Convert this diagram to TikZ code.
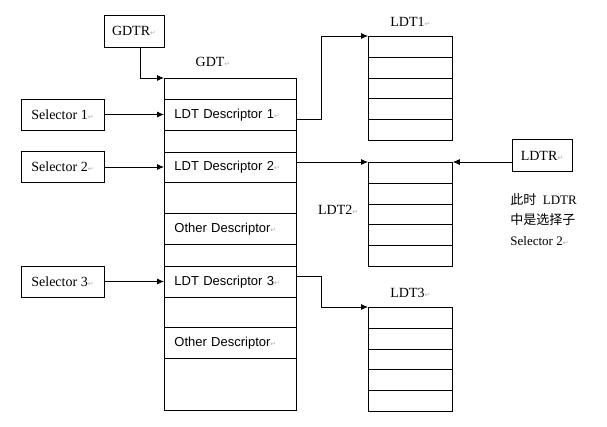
\documentclass[tikz,border=0pt]{standalone}
\usepackage{fontspec}
\setmainfont{Liberation Serif}
\newfontfamily\descfont{Liberation Sans}
\newfontfamily\cjk{Noto Sans CJK SC}
\newfontfamily\symfont{DejaVu Sans}
\usetikzlibrary{calc}
\usetikzlibrary{positioning}
\usetikzlibrary{arrows.meta}
\newcommand{\ret}{{\symfont\fontsize{7}{7}\selectfont\color{gray!60}↵}}

\begin{document}
\begin{tikzpicture}[x=1pt,y=-1pt,line width=0.8pt,>={Latex[length=7pt,width=6pt]},
		box/.style={draw, minimum width=60pt, minimum height=32pt, inner sep=0pt, font=\fontsize{14}{14}\selectfont},
		selbox/.style={draw, minimum width=83pt, minimum height=31pt, inner sep=0pt, font=\fontsize{14}{14}\selectfont},
		slot/.style={draw, anchor=north west, text width=112pt, inner xsep=10pt, inner ysep=0pt, align=left, font=\descfont\fontsize{13}{13}\selectfont},
		ldt/.style={draw, anchor=north west, minimum width=84pt, minimum height=104pt, inner sep=0pt},
		lbl/.style={font=\fontsize{14}{14}\selectfont}]
		
		\useasboundingbox (0,0) rectangle (607,426);
		
		% GDT
		\foreach \ya/\yb/\txt [count=\i] in {78/99/{},99/130/{LDT Descriptor 1\ret},130/152/{},152/182/{LDT Descriptor 2\ret},182/213/{},213/244/{Other Descriptor\ret},244/266/{},266/297/{LDT Descriptor 3\ret},297/327/{},327/358/{Other Descriptor\ret},358/410/{}}
		{
			\pgfmathsetmacro{\h}{\yb-\ya}
			\node[slot, minimum height=\h pt] (g\i) at (164,\ya) {\txt};
		}
		\node[lbl] (gdtlbl) at (213,62) {GDT\ret};
		
		% LDT tables
		\node[ldt] (ldt1) at (368,36) {};
		\node[ldt] (ldt2) at (368,162) {};
		\node[ldt] (ldt3) at (368,307) {};
		\foreach \t in {ldt1,ldt2,ldt3}
			\foreach \k in {1,...,4}
				\draw ($(\t.north west)!\k/5!(\t.south west)$) -- ($(\t.north east)!\k/5!(\t.south east)$);
		\node[lbl, above=6pt of ldt1] (ldt1lbl) {LDT1\ret};
		\node[lbl, left=6pt of ldt2, yshift=5pt] (ldt2lbl) {LDT2\ret};
		\node[lbl, above=6pt of ldt3] (ldt3lbl) {LDT3\ret};
		
		% registers and selectors
		\node[box] (gdtr) at (134,31) {GDTR\ret};
		\node[box] (ldtr) at (542,155.5) {LDTR\ret};
		\node[selbox] (sel1) at (62.5,114.5) {Selector 1\ret};
		\node[selbox] (sel2) at (62.5,167) {Selector 2\ret};
		\node[selbox] (sel3) at (62.5,281.5) {Selector 3\ret};
		
		\node[anchor=west, align=left, inner sep=0pt, font=\fontsize{13}{20.5}\selectfont] (note) at (510,219.5) {{\cjk 此时}\ \ LDTR\\{\cjk 中是选择子}\\Selector 2\ret};
		
		% arrows
		\draw[->] ([xshift=6pt]gdtr.south) |- (g1.north west);
		\foreach \s/\r in {sel1/g2,sel2/g4,sel3/g8}
			\draw[->] (\s.east) -- (\s.east -| \r.west);
		\draw[->] ([yshift=-4.5pt]g2.east) -- ++(25,0) |- (ldt1.north west);
		\draw[->] (ldt2.north west -| g4.east) -- (ldt2.north west);
		\draw[->] ([yshift=6pt]g8.east) -- ++(25,0) |- (ldt3.north west);
		\draw[->] (ldt2.north east -| ldtr.west) -- (ldt2.north east);
		
	\end{tikzpicture}
\end{document}
